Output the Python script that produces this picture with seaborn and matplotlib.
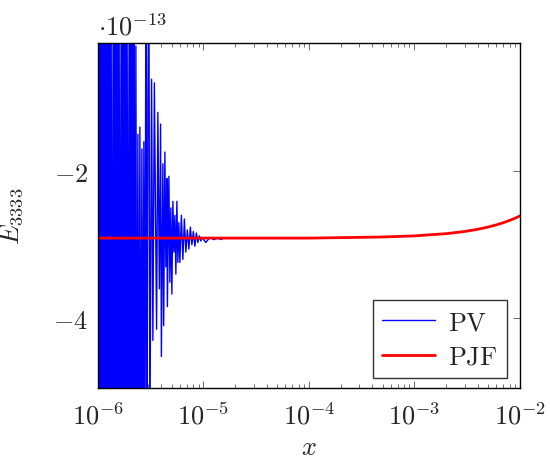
import numpy as np
import pandas as pd
import matplotlib
matplotlib.use("Agg")
import matplotlib.pyplot as plt
import seaborn as sns

# PV data: x in units of 1e-6, E in units of 1e-13
pv_x = [1.000, 1.022, 1.045, 1.068, 1.091, 1.115, 1.140, 1.165, 1.191, 1.217,
        1.244, 1.271, 1.299, 1.328, 1.357, 1.387, 1.418, 1.449, 1.481, 1.514,
        1.547, 1.581, 1.616, 1.652, 1.688, 1.726, 1.764, 1.803, 1.842, 1.883,
        1.925, 1.967, 2.010, 2.055, 2.100, 2.147, 2.194, 2.242, 2.292, 2.343,
        2.394, 2.447, 2.501, 2.556, 2.613, 2.670, 2.729, 2.789, 2.851, 2.914,
        2.978, 3.044, 3.111,
        3.228, 3.321, 3.431, 3.601,
        3.705, 3.828, 3.930, 3.999, 4.132, 4.205, 4.316, 4.411, 4.508, 4.558,
        4.710, 4.814, 4.920, 5.029, 5.140, 5.253, 5.370, 5.487, 5.609, 5.733,
        5.859, 5.988, 6.187, 6.393, 6.606, 6.825, 7.053, 7.288, 7.530, 7.780,
        8.039, 8.307, 8.583, 8.870, 9.165, 9.470, 9.678, 10.56, 11.53, 12.58,
        13.72, 14.65, 15.64]
pv_y = [1.0, -8.0, 0.6, -7.2, 1.3, -7.8, 0.4, -6.9, 1.1, -8.1,
        0.7, -7.4, 1.5, -6.6, 0.3, -7.9, 1.2, -7.1, 0.5, -8.2,
        1.0, -6.8, 0.2, -7.6, 1.4, -7.0, 0.6, -8.0, 0.9, -6.4,
        0.1, -7.7, 1.3, -6.9, 0.4, -8.3, 0.8, -6.7, -0.3, -7.2,
        -1.5, -6.5, -1.4, -7.0, -1.7, -6.2, -1.6, -5.9, 0.5, -6.8,
        -1.0, 0.8, -5.8,
        -0.75, -4.3, -0.8, -4.15,
        -1.2, -3.6, -1.36, -4.52, -1.9, -4.1, -1.74, -3.3, -2.1, -3.84,
        -2.07, -3.51, -2.5, -3.67, -2.41, -3.1, -2.6, -3.40, -2.41, -3.24,
        -2.7, -3.24, -2.6, -3.20, -2.65, -3.1, -2.8, -3.06, -2.76, -3.0,
        -2.82, -3.02, -2.84, -2.97, -2.88, -2.95, -2.90, -2.97, -2.90, -2.93,
        -2.91, -2.93, -2.91]

# PJF data
pjf_x = [1e-6, 1e-5, 1e-4, 3e-4, 5e-4, 1e-3, 2e-3, 3e-3, 4e-3, 5e-3, 6e-3, 7e-3, 8e-3, 9e-3, 1e-2]
pjf_y = [-2.91, -2.91, -2.91, -2.90, -2.895, -2.88, -2.85, -2.82, -2.79, -2.76, -2.73, -2.70, -2.67, -2.64, -2.61]

sns.set_theme(style="ticks")
plt.rcParams['mathtext.fontset'] = 'cm'
plt.rcParams['font.family'] = ['DejaVu Serif']

pv = pd.DataFrame({'x': np.array(pv_x) * 1e-6, 'E': np.array(pv_y) * 1e-13})
pjf = pd.DataFrame({'x': pjf_x, 'E': np.array(pjf_y) * 1e-13})

fig = plt.figure(figsize=(5.5, 4.6), dpi=100)
ax = fig.add_axes([0.178, 0.154, 0.767, 0.75])

sns.lineplot(data=pv, x='x', y='E', ax=ax, color='blue', lw=1.0, sort=False,
             estimator=None, label=r'$\mathrm{PV}$')
sns.lineplot(data=pjf, x='x', y='E', ax=ax, color='red', lw=2, sort=False,
             estimator=None, label=r'$\mathrm{PJF}$')

ax.set_xscale('log')
ax.set_xlim(1e-6, 1e-2)
ax.set_ylim(-4.95e-13, -0.26e-13)
ax.set_xticks([1e-6, 1e-5, 1e-4, 1e-3, 1e-2])
ax.set_xticklabels([r'$10^{-6}$', r'$10^{-5}$', r'$10^{-4}$', r'$10^{-3}$', r'$10^{-2}$'])
ax.set_yticks([-4e-13, -2e-13])
ax.set_yticklabels([r'$-4$', r'$-2$'])
ax.tick_params(which='both', direction='in', top=True, right=True, labelsize=19,
               color='#555555')
ax.tick_params(which='major', length=5, width=0.6)
ax.tick_params(which='minor', length=3, width=0.6)
ax.tick_params(axis='x', pad=10)
ax.tick_params(axis='y', pad=7)
ax.set_xlabel(r'$x$', fontsize=19, labelpad=4)
ax.set_ylabel(r'$E_{3333}$', fontsize=19, labelpad=20)
for s in ax.spines.values():
    s.set_linewidth(1.0)
    s.set_color('black')

ax.text(0.0, 1.01, r'$\cdot 10^{-13}$', transform=ax.transAxes, fontsize=19,
        ha='left', va='bottom')

leg = ax.legend(loc='lower right', fontsize=19, frameon=True, fancybox=False,
                edgecolor='black', handlelength=2.0, handletextpad=0.5,
                borderpad=0.35, labelspacing=0.35, borderaxespad=0,
                bbox_to_anchor=(0.969, 0.029))
leg.get_frame().set_linewidth(1.0)

fig.savefig('out.png', dpi=100)
